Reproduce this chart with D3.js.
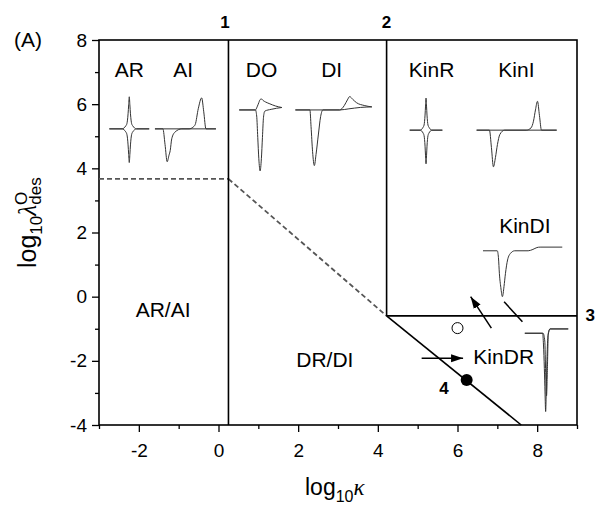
<!DOCTYPE html>
<html>
<head>
<meta charset="utf-8">
<script src="https://cdn.jsdelivr.net/npm/d3@7"></script>
<style>
  body { margin: 0; background: #fff; }
  text { font-family: "Liberation Sans", Arial, sans-serif; fill: #000; }
</style>
</head>
<body>
<svg width="599" height="510"></svg>
<script>
// axis ticks
var xTicks = [-2, 0, 2, 4, 6, 8];
var xMinor = [-3, -1, 1, 3, 5, 7, 9];
var yTicks = [-4, -2, 0, 2, 4, 6, 8];
var yMinor = [-3, -1, 1, 3, 5, 7];

// zone boundaries (log10 kappa, log10 lambda)
var solidLines = [
  [[0.25, -4], [0.25, 8]],
  [[4.22, -0.6], [4.22, 8]],
  [[4.22, -0.6], [9, -0.6]],
  [[4.22, -0.6], [7.6, -4]]
];
var dashedLines = [
  [[-3, 3.67], [0.25, 3.67]],
  [[0.25, 3.67], [4.22, -0.6]]
];
var filledPoints = [[6.23, -2.6]];
var openPoints = [[6.0, -0.98]];
var arrows = [
  {from: [5.10, -1.92], to: [6.14, -1.92], head: true},
  {from: [6.85, -0.98], to: [6.33, 0.0], head: true},
  {from: [7.63, -0.78], to: [7.17, -0.16], head: false}
];
var zoneLabels = [
  ["AR", -2.24, 6.85], ["AI", -0.885, 6.85], ["DO", 1.08, 6.85], ["DI", 2.84, 6.85],
  ["KinR", 5.35, 6.85], ["KinI", 7.48, 6.85], ["KinDI", 7.69, 1.97],
  ["AR/AI", -1.39, -0.64], ["DR/DI", 2.67, -2.18], ["KinDR", 7.16, -2.11]
];
var boundaryNumbers = [["1", 0.16, 8.37], ["2", 4.22, 8.37], ["3", 9.33, -0.75], ["4", 5.66, -3.03]];

// schematic voltammograms: potential E (0..1) vs normalised current I
var revE    = [0, 0.32, 0.37, 0.41, 0.44, 0.47, 0.485, 0.5, 0.515, 0.53, 0.56, 0.59, 0.63, 0.68, 1];
var revUpI  = [0, 0, 0.03, 0.09, 0.16, 0.47, 0.75, 1, 0.75, 0.47, 0.16, 0.09, 0.03, 0, 0];
var revDnI  = [0, 0, -0.03, -0.09, -0.17, -0.5, -0.8, -1.05, -0.8, -0.5, -0.17, -0.09, -0.03, 0, 0];

var aiFwdE = [0, 0.13, 0.165, 0.2, 0.23, 0.25, 0.275, 0.33, 0.44, 1];
var aiFwdI = [0, 0, -0.5, -1.06, -0.85, -0.7, -0.32, -0.1, 0, 0];
var aiRevE = [0, 0.56, 0.62, 0.66, 0.71, 0.766, 0.8, 0.836, 1];
var aiRevI = [0, 0, 0.05, 0.14, 0.65, 1, 0.55, 0, 0];

var kiFwdE = [0, 0.16, 0.185, 0.21, 0.235, 0.26, 0.29, 0.35, 1];
var kiFwdI = [0, 0, -0.6, -1.27, -0.95, -0.5, -0.15, 0, 0];
var kiRevE = [0, 0.62, 0.68, 0.71, 0.735, 0.76, 0.785, 0.81, 1];
var kiRevI = [0, 0, 0.08, 0.31, 0.7, 1, 0.5, 0, 0];

var doFwdE = [0, 0.38, 0.41, 0.435, 0.46, 0.49, 0.52, 0.545, 0.57, 0.6, 0.75, 1];
var doFwdI = [0, 0, -0.1, -0.45, -0.8, -1, -0.8, -0.45, -0.12, -0.02, 0.01, 0.04];
var doRevE = [0, 0.38, 0.42, 0.46, 0.49, 0.52, 0.56, 0.62, 0.72, 0.85, 1];
var doRevI = [0, 0, 0.05, 0.12, 0.17, 0.18, 0.155, 0.13, 0.1, 0.065, 0.04];

var diFwdE = [0, 0.19, 0.205, 0.225, 0.248, 0.27, 0.3, 0.33, 0.36, 0.58, 0.7, 0.85, 1];
var diFwdI = [0, 0, -0.3, -0.75, -1, -0.8, -0.45, -0.12, 0, 0, 0.02, 0.045, 0.055];
var diRevE = [0, 0.58, 0.64, 0.68, 0.71, 0.75, 0.8, 0.9, 1];
var diRevI = [0, 0, 0.08, 0.18, 0.24, 0.19, 0.13, 0.08, 0.055];

var kdiE = [0, 0.18, 0.195, 0.207, 0.225, 0.245, 0.265, 0.283, 0.31, 0.35, 0.4, 0.57, 0.63, 0.68, 0.72, 1];
var kdiI = [0, 0, -0.15, -0.5, -0.8, -1, -0.78, -0.5, -0.2, -0.05, 0, 0, 0.03, 0.07, 0.08, 0.08];

var kdrFwdE = [0, 0.41, 0.43, 0.45, 0.465, 0.48, 0.495, 0.51, 0.53, 0.56, 0.58, 1];
var kdrFwdI = [0, 0, -0.15, -0.45, -0.75, -1, -0.7, -0.35, -0.05, 0.04, 0.055, 0.055];
var kdrRevE = [0, 0.42, 0.46, 0.48, 0.5, 0.52, 0.54, 0.58, 1];
var kdrRevI = [0, 0, -0.1, -0.5, -0.8, -0.45, -0.02, 0.055, 0.055];

// where each little voltammogram sits on the diagram (chart units)
var insets = [
  {x0: -2.74, x1: -1.74, base: 5.23, amp: 1.0,  branches: [[revE, revUpI], [revE, revDnI]]},
  {x0: -1.595, x1: -0.064, base: 5.23, amp: 0.966, branches: [[aiFwdE, aiFwdI], [aiRevE, aiRevI]]},
  {x0: 0.52, x1: 1.59, base: 5.82, amp: 1.90, branches: [[doFwdE, doFwdI], [doRevE, doRevI]]},
  {x0: 1.93, x1: 3.85, base: 5.82, amp: 1.735, branches: [[diFwdE, diFwdI], [diRevE, diRevI]]},
  {x0: 4.80, x1: 5.62, base: 5.19, amp: 1.0,  branches: [[revE, revUpI], [revE, revDnI]]},
  {x0: 6.48, x1: 8.49, base: 5.19, amp: 0.90, branches: [[kiFwdE, kiFwdI], [kiRevE, kiRevI]]},
  {x0: 6.64, x1: 8.63, base: 1.43, amp: 1.43, branches: [[kdiE, kdiI]]},
  {x0: 7.69, x1: 8.78, base: -1.14, amp: 2.44, branches: [[kdrFwdE, kdrFwdI], [kdrRevE, kdrRevI]]}
];

var svg = d3.select('svg');
var x = d3.scaleLinear().domain([-3, 9]).range([99, 577]);
var y = d3.scaleLinear().domain([-4, 8]).range([425, 40]);

svg.append('defs').append('marker')
   .attr('id', 'head').attr('markerUnits', 'userSpaceOnUse')
   .attr('viewBox', '0 -5 12 10').attr('refX', 12).attr('refY', 0)
   .attr('markerWidth', 12).attr('markerHeight', 10).attr('orient', 'auto')
   .append('path').attr('d', 'M0,-4L12,0L0,4Z').attr('fill', '#000');

// axes
var fmt = function(d) { return String(d); };
svg.append('g').attr('transform', 'translate(0,425)')
   .call(d3.axisBottom(x).tickValues(xTicks).tickFormat(fmt).tickSize(7).tickPadding(12));
svg.append('g').attr('transform', 'translate(0,425)')
   .call(d3.axisBottom(x).tickValues(xMinor).tickFormat('').tickSize(4));
svg.append('g').attr('transform', 'translate(99,0)')
   .call(d3.axisLeft(y).tickValues(yTicks).tickFormat(fmt).tickSize(7).tickPadding(5));
svg.append('g').attr('transform', 'translate(99,0)')
   .call(d3.axisLeft(y).tickValues(yMinor).tickFormat('').tickSize(4));
svg.selectAll('.domain').remove();
svg.selectAll('.tick line').attr('stroke', '#000').attr('stroke-width', 1.3);
svg.selectAll('.tick text').attr('font-size', 19).attr('font-family', '"Liberation Sans", Arial, sans-serif');

// frame
svg.append('rect').attr('x', x(-3)).attr('y', y(8))
   .attr('width', x(9) - x(-3)).attr('height', y(-4) - y(8))
   .attr('fill', 'none').attr('stroke', '#000').attr('stroke-width', 1.6);

var line = d3.line().x(function(d) { return x(d[0]); }).y(function(d) { return y(d[1]); });

svg.selectAll('.dash').data(dashedLines).enter().append('path')
   .attr('d', line).attr('fill', 'none').attr('stroke', '#555')
   .attr('stroke-width', 1.8).attr('stroke-dasharray', '5,3');

svg.selectAll('.bound').data(solidLines).enter().append('path')
   .attr('d', line).attr('fill', 'none').attr('stroke', '#000').attr('stroke-width', 1.6);

// voltammograms
insets.forEach(function(ins) {
  var eScale = d3.scaleLinear().domain([0, 1]).range([ins.x0, ins.x1]);
  var cv = d3.line()
             .x(function(d) { return x(eScale(d[0])); })
             .y(function(d) { return y(ins.base + d[1] * ins.amp); })
             .curve(d3.curveMonotoneX);
  ins.branches.forEach(function(b) {
    svg.append('path').datum(d3.zip(b[0], b[1]))
       .attr('d', cv).attr('fill', 'none').attr('stroke', '#333').attr('stroke-width', 1);
  });
});

// arrows
svg.selectAll('.arrow').data(arrows).enter().append('line')
   .attr('x1', function(d) { return x(d.from[0]); }).attr('y1', function(d) { return y(d.from[1]); })
   .attr('x2', function(d) { return x(d.to[0]); }).attr('y2', function(d) { return y(d.to[1]); })
   .attr('stroke', '#000').attr('stroke-width', 1.5)
   .attr('marker-end', function(d) { return d.head ? 'url(#head)' : null; });

// points
svg.selectAll('.fp').data(filledPoints).enter().append('circle')
   .attr('cx', function(d) { return x(d[0]); }).attr('cy', function(d) { return y(d[1]); })
   .attr('r', 6).attr('fill', '#000');
svg.selectAll('.op').data(openPoints).enter().append('circle')
   .attr('cx', function(d) { return x(d[0]); }).attr('cy', function(d) { return y(d[1]); })
   .attr('r', 5.5).attr('fill', '#fff').attr('stroke', '#000').attr('stroke-width', 1);

// zone labels
svg.selectAll('.zl').data(zoneLabels).enter().append('text')
   .attr('x', function(d) { return x(d[1]); }).attr('y', function(d) { return y(d[2]); })
   .attr('text-anchor', 'middle').attr('font-size', 21)
   .text(function(d) { return d[0]; });

svg.selectAll('.bn').data(boundaryNumbers).enter().append('text')
   .attr('x', function(d) { return x(d[1]); }).attr('y', function(d) { return y(d[2]); })
   .attr('text-anchor', 'middle').attr('font-size', 17).attr('font-weight', 'bold')
   .text(function(d) { return d[0]; });

svg.append('text').attr('x', 28).attr('y', 47).attr('text-anchor', 'middle')
   .attr('font-size', 21).text('(A)');

// axis titles
var xt = svg.append('text').attr('x', 305).attr('y', 495).attr('font-size', 23);
xt.append('tspan').text('log');
xt.append('tspan').attr('font-size', 16).attr('dy', 7).text('10');
xt.append('tspan').attr('dy', -7).attr('font-family', '"Liberation Serif", serif')
  .attr('font-style', 'italic').text('κ');

var yt = svg.append('text').attr('transform', 'translate(36,268) rotate(-90)').attr('font-size', 25);
yt.append('tspan').text('log');
yt.append('tspan').attr('font-size', 17).attr('dy', 6).text('10');
yt.append('tspan').attr('dy', -6).attr('font-family', '"Liberation Serif", serif')
  .attr('font-style', 'italic').text('λ');
yt.append('tspan').attr('font-size', 17).attr('dy', -9).text('O');
yt.append('tspan').attr('font-size', 17).attr('dy', 14).attr('dx', -13).text('des');
</script>
</body>
</html>
